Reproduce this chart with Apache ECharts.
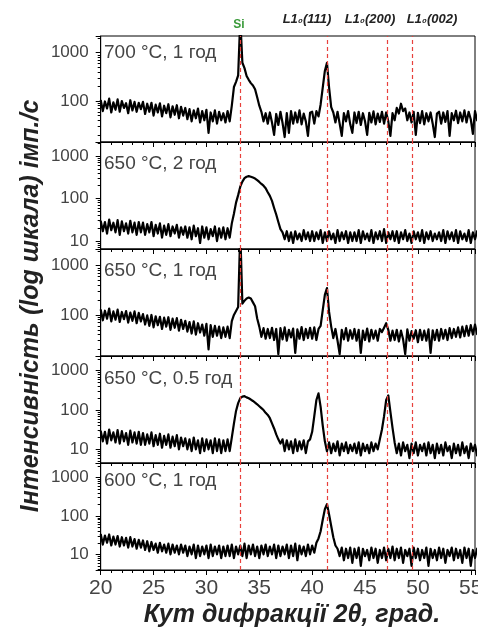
<!DOCTYPE html>
<html><head><meta charset="utf-8">
<script src="https://cdn.jsdelivr.net/npm/echarts@6/dist/echarts.min.js"></script>
<style>html,body{margin:0;padding:0;background:#fff}#c{width:478px;height:629px}</style>
</head><body><div id="c"></div>
<script>
// 2θ sampling grid: 20.0 … 55.8 step 0.2
const angleStart = 20, angleStep = 0.2, nPoints = 180;

// Intensity (counts/s), 20 values per 4° row
const p700_1h = [
 105,62,98,70,112,58,94,66,108,60,100,72,90,56,104,64,96,60,92,68,
 96,54,88,60,92,50,84,58,90,48,80,56,86,46,78,52,82,44,76,50,
 72,42,68,38,64,44,70,36,62,40,66,22,58,38,64,34,60,40,56,36,
 62,38,80,195,250,340,5000,620,480,330,275,235,210,175,120,80,60,38,56,34,
 58,36,20,54,32,60,35,18,56,22,62,34,58,36,64,33,55,38,19,57,
 60,34,62,48,85,190,420,620,190,75,58,36,60,34,19,56,38,62,33,22,
 58,35,60,32,56,38,20,57,36,61,33,55,37,60,34,58,38,19,56,40,
 72,55,88,62,70,40,58,36,60,20,57,35,62,33,56,38,58,34,18,55,
 60,34,58,37,62,19,56,40,63,35,58,38,64,36,60,42,21,62,40,66
];
const p650_2h = [
 30,17,28,15,32,18,27,16,31,14,29,17,26,15,30,16,27,14,28,16,
 27,14,25,16,28,13,24,15,26,12,23,14,25,13,22,15,24,12,21,14,
 22,12,21,11,23,13,20,9,22,12,21,11,19,13,22,10,20,12,21,11,
 20,12,26,44,80,120,190,250,300,325,335,325,310,295,270,245,220,200,175,140,
 115,88,60,42,28,19,16,11,17,10,16,9,17,11,15,10,18,11,16,10,
 17,10,16,11,18,9,16,10,17,11,15,9,18,10,16,11,17,9,16,10,
 16,10,18,9,17,11,15,10,18,9,16,11,17,10,19,9,16,11,17,10,
 17,9,16,11,18,10,15,9,17,11,16,10,18,9,16,11,17,10,15,11,
 16,10,18,9,17,11,16,10,18,9,17,11,15,10,18,9,16,11,17,10
];
const p650_1h = [
 130,78,122,84,135,74,118,80,128,72,115,82,120,70,112,76,118,68,110,74,
 104,64,98,60,100,56,94,62,92,52,88,58,90,50,84,55,86,48,80,52,
 76,46,72,42,74,40,68,44,64,38,66,20,62,36,60,38,58,34,56,36,
 58,34,75,100,120,145,5000,170,195,215,225,215,180,150,85,58,36,54,33,52,
 34,55,31,52,16,54,32,56,30,50,35,53,17,51,33,57,31,52,34,55,
 33,56,31,52,60,125,255,350,115,58,34,52,30,16,50,32,54,30,49,33,
 52,30,50,17,48,31,53,29,50,33,48,30,52,45,55,68,50,30,48,31,
 50,29,48,32,16,51,30,47,33,49,28,50,31,48,30,51,17,49,31,50,
 30,52,33,50,31,54,34,52,36,56,35,58,37,60,38,62,40,64,41,66
];
const p650_05h = [
 30,16,28,14,32,17,27,15,31,14,29,16,26,13,30,15,27,14,28,13,
 26,13,24,14,27,12,23,13,25,11,22,13,24,11,21,12,23,10,20,12,
 19,10,18,9,20,10,17,8,19,9,18,10,17,8,19,9,18,8,17,9,
 18,9,20,45,95,150,200,220,225,210,200,185,170,155,140,125,112,100,85,75,
 62,46,34,24,18,14,18,9,17,10,16,8,18,9,16,10,17,8,16,18,
 28,70,180,265,120,40,16,9,15,8,14,9,16,7,14,9,15,8,13,9,
 14,8,15,7,14,9,13,8,15,9,14,10,18,32,70,180,235,90,35,15,
 8,14,7,15,9,13,6,14,8,15,7,13,9,14,7,15,8,13,6,14,
 8,13,7,15,9,12,6,14,8,13,7,15,8,12,6,14,9,13,7,14
];
const p600_1h = [
 34,18,31,20,33,17,29,18,30,16,28,17,27,15,28,16,25,14,24,15,
 23,13,22,12,21,13,19,11,20,12,18,11,19,10,18,11,17,10,18,11,
 17,9,16,10,18,8,17,9,16,10,17,8,18,9,16,10,17,8,16,9,
 17,9,18,8,16,10,17,9,19,8,17,10,18,9,16,8,17,10,18,9,
 16,10,18,8,17,9,16,10,18,8,17,9,19,7,17,10,16,9,18,10,
 17,11,20,26,40,80,150,205,110,55,28,17,14,9,15,7,14,8,15,6,
 14,8,15,5,14,9,13,7,15,8,14,6,13,8,15,7,14,8,16,7,
 14,8,15,6,13,9,14,5,15,8,14,7,13,8,15,5,14,8,13,7,
 15,8,14,6,13,9,15,7,14,8,13,6,15,8,14,5,13,8,14,7
];

const panelSeries = [p700_1h, p650_2h, p650_1h, p650_05h, p600_1h];
const panelLabels = ['700 °C, 1 год', '650 °C, 2 год', '650 °C, 1 год', '650 °C, 0.5 год', '600 °C, 1 год'];
const yMin = [14.2, 6.5, 14.7, 4.5, 3.9];
const yMax = [2220, 2130, 2180, 2370, 2420];
const refLines = [33.2, 41.4, 47.1, 49.5];
const xMin = 20, xMax = 55.4, xInterval = 5;
const yTitle = 'Інтенсивність (log шкала) імп./с';
const xTitle = 'Кут дифракції 2θ, град.';
const topLabelSi = 'Si';
const topLabelsL1 = ['L1₀(111)', 'L1₀(200)', 'L1₀(002)'];

// layout
const gridTops = [36, 142, 249, 356, 463];
const gridHeights = [106, 107, 107, 107, 107];
const labelCenters = [53, 164, 271, 379, 481];
const l1LabelX = [307, 370, 432];
const FONT = '"Liberation Sans", Arial, sans-serif';

const grids = [], xAxes = [], yAxes = [], series = [], graphics = [];
panelSeries.forEach((vals, k) => {
  grids.push({left: 100.7, right: 3, top: gridTops[k], height: gridHeights[k],
    outerBoundsMode: 'none', containLabel: false,
    show: true, borderColor: '#000', borderWidth: 1, backgroundColor: 'transparent'});
  const last = k === panelSeries.length - 1;
  xAxes.push({type: 'value', gridIndex: k, min: xMin, max: xMax, interval: xInterval,
    axisLine: {show: true, lineStyle: {color: '#000', width: 1}},
    axisTick: {show: true, inside: false, length: 5, lineStyle: {color: '#000'}},
    minorTick: {show: true, splitNumber: 5, length: 3, lineStyle: {color: '#000'}},
    splitLine: {show: false},
    axisLabel: {show: last, margin: 8, fontSize: 21, color: '#444', fontFamily: FONT, hideOverlap: false,
      formatter: v => (Math.abs(v % 5) < 1e-6 ? String(v) : '')}
  });
  yAxes.push({type: 'log', logBase: 10, gridIndex: k, min: yMin[k], max: yMax[k],
    axisLine: {show: true, lineStyle: {color: '#000', width: 1}},
    axisTick: {show: true, inside: false, length: 5, lineStyle: {color: '#000'}},
    minorTick: {show: true, splitNumber: 9, length: 3, lineStyle: {color: '#000'}},
    splitLine: {show: false},
    axisLabel: {margin: 12, fontSize: 17, color: '#444', fontFamily: FONT,
      formatter: v => { const l = Math.log10(v); return Math.abs(l - Math.round(l)) < 1e-6 ? String(Math.round(v)) : ''; }}
  });
  const data = vals.map((y, i) => [+(angleStart + i * angleStep).toFixed(2), y]);
  series.push({type: 'line', xAxisIndex: k, yAxisIndex: k, data: data,
    showSymbol: false, symbol: 'none', animation: false, z: 3,
    lineStyle: {color: '#000', width: 2.2, join: 'round'},
    markLine: {silent: true, symbol: 'none', animation: false,
      label: {show: false},
      lineStyle: {color: '#e8413c', type: [4, 3], width: 1.2},
      data: refLines.map(v => ({xAxis: v}))}
  });
  graphics.push({type: 'text', x: 104, y: labelCenters[k],
    style: {text: panelLabels[k], font: '19px ' + FONT, fill: '#444', verticalAlign: 'middle'}});
});

graphics.push({type: 'text', x: 31, y: 306, rotation: Math.PI / 2,
  style: {text: yTitle, font: 'italic bold 25px ' + FONT, fill: '#222', align: 'center', verticalAlign: 'middle'}});
graphics.push({type: 'text', x: 292, y: 615,
  style: {text: xTitle, font: 'italic bold 25px ' + FONT, fill: '#222', align: 'center', verticalAlign: 'middle'}});
graphics.push({type: 'text', x: 239, y: 25,
  style: {text: topLabelSi, font: 'bold 12px ' + FONT, fill: '#3a9a3a', align: 'center', verticalAlign: 'middle'}});
topLabelsL1.forEach((t, i) => graphics.push({type: 'text', x: l1LabelX[i], y: 19,
  style: {text: t, font: 'italic bold 13px ' + FONT, fill: '#222', align: 'center', verticalAlign: 'middle'}}));

const chart = echarts.init(document.getElementById('c'), null, {renderer: 'canvas'});
chart.setOption({animation: false, backgroundColor: '#fff',
  grid: grids, xAxis: xAxes, yAxis: yAxes, series: series, graphic: graphics});
</script></body></html>
